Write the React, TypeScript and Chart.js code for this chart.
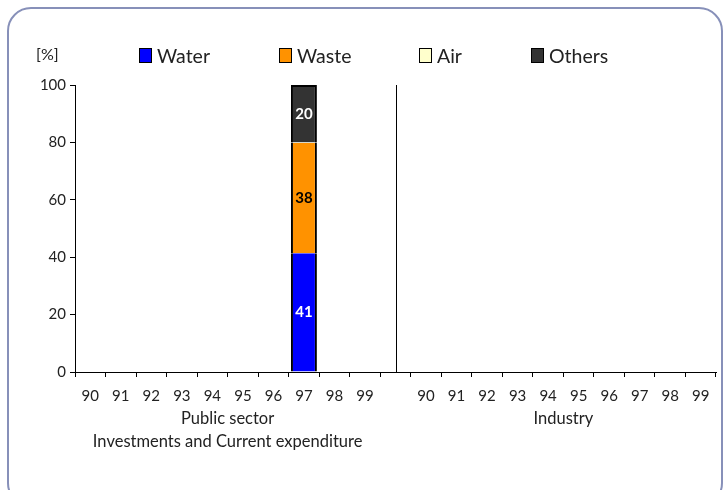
import React, { useEffect, useRef } from "react";
import { Chart, registerables } from "chart.js";

Chart.register(...registerables);

// ---- data ----
const publicYears = ["90", "91", "92", "93", "94", "95", "96", "97", "98", "99"];
const industryYears = ["90", "91", "92", "93", "94", "95", "96", "97", "98", "99"];
const categories = [...publicYears, "", ...industryYears];

const waterValues = [null, null, null, null, null, null, null, 41.4, null, null, null, null, null, null, null, null, null, null, null, null, null];
const wasteValues = [null, null, null, null, null, null, null, 38.4, null, null, null, null, null, null, null, null, null, null, null, null, null];
const airValues = [null, null, null, null, null, null, null, 0.2, null, null, null, null, null, null, null, null, null, null, null, null, null];
const othersValues = [null, null, null, null, null, null, null, 20.0, null, null, null, null, null, null, null, null, null, null, null, null, null];

const seriesNames = ["Water", "Waste", "Air", "Others"];
const groupTitles = [["Public sector", "Investments and Current expenditure"], ["Industry"]];
const yTicks = [0, 20, 40, 60, 80, 100];

// ---- styles ----
const COLORS = ["#0000ff", "#ff9200", "#ffffcc", "#333333"];
const LABEL_COLORS = ["#ffffff", "#000000", "#000000", "#ffffff"];
const LEGEND_LEFT = [139, 279, 419, 531];
const FONT = "Lato, 'DejaVu Sans', sans-serif";

const overlayPlugin = {
  id: "overlay",
  afterDatasetsDraw(chart: any) {
    const ctx = chart.ctx;
    ctx.save();
    ctx.font = `bold 15px ${FONT}`;
    ctx.textAlign = "center";
    ctx.textBaseline = "middle";
    chart.data.datasets.forEach((ds: any, di: number) => {
      const meta = chart.getDatasetMeta(di);
      meta.data.forEach((el: any, i: number) => {
        const v = ds.data[i];
        if (v == null || v < 5) return;
        ctx.fillStyle = LABEL_COLORS[di];
        ctx.fillText(String(Math.round(v)), el.x, (el.y + el.base) / 2);
      });
    });
    ctx.restore();
  },
  afterDraw(chart: any) {
    const ctx = chart.ctx;
    const x = chart.scales.x;
    const y = chart.scales.y;
    ctx.save();
    // separator between groups
    const sep = Math.round(x.getPixelForValue(publicYears.length)) + 0.5;
    ctx.strokeStyle = "#000";
    ctx.lineWidth = 1;
    ctx.beginPath();
    ctx.moveTo(sep, y.top);
    ctx.lineTo(sep, y.bottom);
    ctx.stroke();
    // group titles
    ctx.font = `16.5px ${FONT}`;
    ctx.fillStyle = "#222";
    ctx.textAlign = "center";
    ctx.textBaseline = "middle";
    const starts = [0, publicYears.length + 1];
    const counts = [publicYears.length, industryYears.length];
    groupTitles.forEach((lines, g) => {
      const cx = (x.getPixelForValue(starts[g]) + x.getPixelForValue(starts[g] + counts[g] - 1)) / 2;
      lines.forEach((t, li) => {
        ctx.fillText(t, cx, y.bottom + 47 + li * 23);
      });
    });
    ctx.restore();
  },
};

export default function App() {
  const canvasRef = useRef<HTMLCanvasElement | null>(null);

  useEffect(() => {
    if (!canvasRef.current) return;
    const chart = new Chart(canvasRef.current, {
      type: "bar",
      data: {
        labels: categories,
        datasets: [waterValues, wasteValues, airValues, othersValues].map((vals, i) => ({
          label: seriesNames[i],
          data: vals as any,
          backgroundColor: COLORS[i],
          borderColor: "#000",
          borderWidth: i === 3 ? { left: 2, right: 2, top: 2, bottom: 0 } : { left: 2, right: 2, top: 0, bottom: 0 },
          borderSkipped: false,
          barPercentage: 0.85,
          categoryPercentage: 1,
        })),
      },
      options: {
        animation: false,
        responsive: false,
        maintainAspectRatio: false,
        layout: { padding: { left: 0, right: 12, top: 85, bottom: 0 } },
        plugins: { legend: { display: false }, tooltip: { enabled: false } },
        scales: {
          x: {
            stacked: true,
            afterFit: (s: any) => { s.height = 118; },
            grid: { drawOnChartArea: false, drawTicks: true, tickLength: 5, color: "#000", offset: true },
            border: { color: "#000", width: 1 },
            ticks: { color: "#222", font: { family: FONT, size: 15 }, padding: 10, autoSkip: false, maxRotation: 0 },
          },
          y: {
            stacked: true,
            min: 0,
            max: 100,
            afterFit: (s: any) => { s.width = 75; },
            afterBuildTicks: (s: any) => { s.ticks = yTicks.map((v) => ({ value: v })); },
            grid: { drawOnChartArea: false, drawTicks: true, tickLength: 5, color: "#000" },
            border: { color: "#000", width: 1 },
            ticks: { color: "#222", font: { family: FONT, size: 15 }, padding: 4 },
          },
        },
      },
      plugins: [overlayPlugin],
    });
    return () => chart.destroy();
  }, []);

  return (
    <div style={{ position: "fixed", left: 0, top: 0, width: 728, height: 490, overflow: "hidden", background: "#fff", fontFamily: FONT }}>
      <div
        style={{
          position: "absolute",
          left: 7,
          top: 7,
          width: 716,
          height: 500,
          boxSizing: "border-box",
          border: "2.5px solid #8790b9",
          borderRadius: 24,
        }}
      />
      <canvas ref={canvasRef} width={728} height={490} style={{ position: "absolute", left: 0, top: 0 }} />
      <div style={{ position: "absolute", left: 36, top: 44, fontSize: 16, color: "#222" }}>[%]</div>
      {seriesNames.map((n, i) => (
        <div key={n} style={{ position: "absolute", left: LEGEND_LEFT[i], top: 44, display: "flex", alignItems: "center", height: 22 }}>
          <span style={{ display: "inline-block", width: 11, height: 13, background: COLORS[i], border: "1px solid #000", marginRight: 5 }} />
          <span style={{ fontSize: 19.5, color: "#222" }}>{n}</span>
        </div>
      ))}
    </div>
  );
}
